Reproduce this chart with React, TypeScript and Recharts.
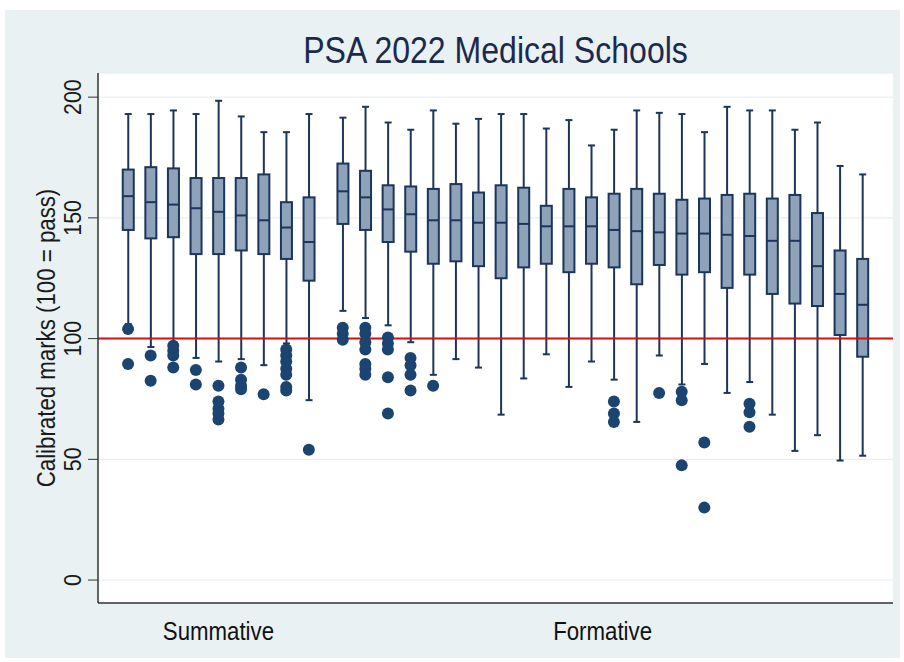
import React from 'react';
import { ComposedChart, Bar, Scatter, XAxis, YAxis, CartesianGrid, ReferenceLine } from 'recharts';

// one entry per medical school, in plotted order
const schoolGroup = [
  'Summative', 'Summative', 'Summative', 'Summative', 'Summative', 'Summative', 'Summative', 'Summative', 'Summative',
  'Formative', 'Formative', 'Formative', 'Formative', 'Formative', 'Formative', 'Formative', 'Formative',
  'Formative', 'Formative', 'Formative', 'Formative', 'Formative', 'Formative', 'Formative', 'Formative',
  'Formative', 'Formative', 'Formative', 'Formative', 'Formative', 'Formative', 'Formative', 'Formative',
];
const groupNames = ['Summative', 'Formative'];

const whiskerHigh = [193, 193, 194.5, 193, 198.5, 192, 185.5, 185.5, 193, 191.5, 196, 189.5, 186.5, 194.5, 189, 191, 193, 193, 187, 190.5, 180, 186.5, 194.5, 193.5, 193, 185.5, 196, 194.5, 194.5, 186.5, 189.5, 171.5, 168];
const upperQuartile = [170, 171, 170.5, 166.5, 166.5, 166.5, 168, 156.5, 158.5, 172.5, 169.5, 163.5, 163, 162, 164, 160.5, 163.5, 162.5, 155, 162, 158.5, 160, 162, 160, 157.5, 158, 159.5, 160, 158, 159.5, 152, 136.5, 133];
const median = [159, 156.5, 155.5, 154, 152.5, 151, 149, 146, 140, 161, 158.5, 153.5, 151.5, 149, 149, 148, 148, 147.5, 146.5, 146.5, 146.5, 145, 144.5, 144, 143.5, 143.5, 143, 142.5, 140.5, 140.5, 130, 118.5, 114];
const lowerQuartile = [145, 141.5, 142, 135, 135, 136.5, 135, 133, 124, 147.5, 145, 140, 136, 131, 132, 130, 125, 129.5, 131, 127.5, 131, 129.5, 122.5, 130.5, 126.5, 127.5, 121, 126.5, 118.5, 114.5, 113.5, 101.5, 92.5];
const whiskerLow = [106, 96.5, 98.5, 92, 90.5, 91.5, 89, 98, 74.5, 111.5, 108.5, 105.5, 98.5, 85, 91.5, 88, 68.5, 83.5, 93.5, 80, 90.5, 83, 65.5, 93, 81, 89.5, 77.5, 82, 68.5, 53.5, 60, 49.5, 51.5];
const outliers = [
  [104, 89.5], [93, 82.5], [97, 95, 93, 88], [87, 81], [80.5, 74, 71, 69, 66.5],
  [88, 83, 80.5, 79], [77], [95.5, 93, 90.5, 87.5, 85, 80, 78.5], [54],
  [104.5, 102, 99.5], [104.5, 102, 98.5, 95.5, 89.5, 87.5, 85], [100.5, 98, 95.5, 84, 69],
  [92, 89, 85, 78.5], [80.5], [], [], [], [], [], [], [],
  [74, 69, 65.5], [], [77.5], [78, 74.5, 47.5], [57, 30], [], [73, 69.5, 63.5],
  [], [], [], [], [],
];
const yTicks = [0, 50, 100, 150, 200];

const GROUP_GAP = 0.5;
const boxes = median.map((med, i) => ({
  pos: i + groupNames.indexOf(schoolGroup[i]) * GROUP_GAP,
  lo: whiskerLow[i],
  q1: lowerQuartile[i],
  med,
  q3: upperQuartile[i],
  hi: whiskerHigh[i],
  range: [whiskerLow[i], whiskerHigh[i]],
}));
const outlierPoints = outliers.flatMap((list, i) => list.map((v) => ({ pos: boxes[i].pos, v })));
const groupTicks = groupNames.map((g) => {
  const p = boxes.filter((b, i) => schoolGroup[i] === g).map((b) => b.pos);
  return (Math.min(...p) + Math.max(...p)) / 2;
});

const FONT = '"Liberation Sans", Arial, Helvetica, sans-serif';
const NAVY = '#1c355a';
const NARROW = 0.89; // the original uses a condensed-looking face

// squeeze text along its own direction around (cx, cy)
const squeeze = (cx: number, cy: number, angle = 0) =>
  `rotate(${angle} ${cx} ${cy}) translate(${cx} ${cy}) scale(${NARROW} 1) translate(${-cx} ${-cy})`;

const BoxShape = (props: any) => {
  const { x, y, width, height, payload } = props;
  if (x == null || y == null) return null;
  const top = Math.min(y, y + height);
  const h = Math.abs(height);
  const toY = (v: number) => top + (h * (payload.hi - v)) / (payload.hi - payload.lo);
  const cx = x + width / 2;
  const cap = 3.5;
  return (
    <g>
      <line x1={cx} x2={cx} y1={toY(payload.hi)} y2={toY(payload.lo)} stroke={NAVY} strokeWidth={2} />
      <line x1={cx - cap} x2={cx + cap} y1={toY(payload.hi)} y2={toY(payload.hi)} stroke={NAVY} strokeWidth={2} />
      <line x1={cx - cap} x2={cx + cap} y1={toY(payload.lo)} y2={toY(payload.lo)} stroke={NAVY} strokeWidth={2} />
      <rect x={x} y={toY(payload.q3)} width={width} height={toY(payload.q1) - toY(payload.q3)} fill="#8ea3ba" stroke={NAVY} strokeWidth={2} />
      <line x1={x} x2={x + width} y1={toY(payload.med)} y2={toY(payload.med)} stroke={NAVY} strokeWidth={2} />
    </g>
  );
};

const YTick = ({ x, y, payload }: any) => {
  const bx = x - 5;
  return (
    <text x={bx} y={y} transform={squeeze(bx, y, -90)} textAnchor="middle" fontSize={24} fontFamily={FONT} fill="#1a1a1a">
      {payload.value}
    </text>
  );
};

const GroupTick = ({ x, y, payload }: any) => {
  const by = y + 29;
  return (
    <text x={x} y={by} transform={squeeze(x, by)} textAnchor="middle" fontSize={25} fontFamily={FONT} fill="#111">
      {groupNames[groupTicks.indexOf(payload.value)]}
    </text>
  );
};

const YTitle = ({ viewBox }: any) => {
  const cx = viewBox.x + 9;
  const cy = viewBox.y + viewBox.height / 2;
  return (
    <text x={cx} y={cy} transform={squeeze(cx, cy, -90)} textAnchor="middle" dominantBaseline="central" fontSize={25} fontFamily={FONT} fill="#1a1a1a">
      Calibrated marks (100 = pass)
    </text>
  );
};

export default function App() {
  return (
    <div style={{ position: 'absolute', left: 0, top: 0, width: 904, height: 662, background: '#fff' }}>
      <div style={{ position: 'absolute', left: 5, top: 10, width: 895, height: 648, background: '#e9f1f3' }} />
      <div
        style={{
          position: 'absolute', left: 98, width: 795, top: 31, textAlign: 'center',
          fontFamily: FONT, fontSize: 36, color: '#1b2a4c', lineHeight: '40px',
          transform: `scaleX(${NARROW})`,
        }}
      >
        PSA 2022 Medical Schools
      </div>
      <div style={{ position: 'absolute', left: 0, top: 0 }}>
        <ComposedChart width={904} height={662} data={boxes} margin={{ top: 73, right: 11, bottom: 19, left: 38 }}>
          <CartesianGrid vertical={false} stroke="#e3ebef" fill="#ffffff" fillOpacity={1} />
          <XAxis
            type="number" dataKey="pos" domain={[-1.33, 33.85]} allowDataOverflow
            ticks={groupTicks} tick={<GroupTick />} tickLine={false} height={40}
            axisLine={{ stroke: '#333', strokeWidth: 1.5 }}
          />
          <YAxis
            type="number" domain={[-9.5, 210]} allowDataOverflow ticks={yTicks} width={60}
            tickSize={10} tick={<YTick />} axisLine={{ stroke: '#333', strokeWidth: 1.5 }}
            tickLine={{ stroke: '#333' }} label={<YTitle />}
          />
          <ReferenceLine y={100} stroke="#d40f0f" strokeWidth={2} />
          <Bar dataKey="range" barSize={11} shape={<BoxShape />} isAnimationActive={false} />
          <Scatter data={outlierPoints} dataKey="v" fill="#1b4470" isAnimationActive={false}
            shape={(p: any) => <circle cx={p.cx} cy={p.cy} r={6} fill="#1b4470" />} />
        </ComposedChart>
      </div>
    </div>
  );
}
